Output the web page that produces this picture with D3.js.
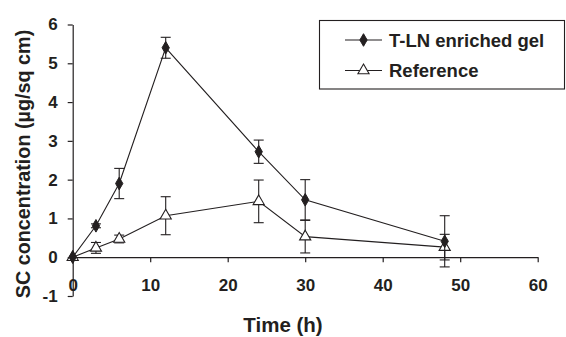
<!DOCTYPE html>
<html lang="en">
<head>
<meta charset="UTF-8">
<title>SC concentration</title>
<script src="https://cdnjs.cloudflare.com/ajax/libs/d3/7.8.5/d3.min.js"></script>
<style>
  body { margin: 0; background: #fff; }
  text { font-family: "Liberation Sans", Arial, sans-serif; font-weight: bold; fill: #231f20; }
</style>
</head>
<body>
<script>
  // data
  const times = [0, 3, 6, 12, 24, 30, 48]
  const gelValues = [0, 0.81, 1.9, 5.4, 2.72, 1.48, 0.41]
  const gelErrors = [0, 0.05, 0.39, 0.27, 0.3, 0.52, 0.66]
  const refValues = [0, 0.24, 0.47, 1.07, 1.44, 0.53, 0.26]
  const refErrors = [0, 0.14, 0.1, 0.49, 0.55, 0.42, 0.33]
  const xTicks = [0, 10, 20, 30, 40, 50, 60]
  const yTicks = [-1, 0, 1, 2, 3, 4, 5, 6]
  const seriesNames = ["T-LN enriched gel", "Reference"]

  const W = 566, H = 337
  const ink = "#231f20"

  const svg = d3.select("body").append("svg")
      .attr("width", W)
      .attr("height", H)

  const x = d3.scaleLinear().domain([0, 60]).range([72.7, 537.7])
  const y = d3.scaleLinear().domain([-1, 6]).range([296, 24.5])

  // y axis
  svg.append("g")
      .attr("transform", "translate(" + x(0) + ",0)")
      .call(d3.axisLeft(y).tickValues(yTicks).tickFormat(d => String(d))
        .tickSize(5).tickSizeOuter(0).tickPadding(10))
  // x axis sits on y = 0
  svg.append("g")
      .attr("transform", "translate(0," + y(0) + ")")
      .call(d3.axisBottom(x).tickValues(xTicks).tickFormat(d => String(d))
        .tickSize(5).tickSizeOuter(0).tickPadding(17))

  svg.selectAll(".domain, .tick line").attr("stroke", ink).attr("stroke-width", 1.2)
  svg.selectAll(".tick text")
      .style("font-size", "17px")
      .style("font-family", "'Liberation Sans', Arial, sans-serif")
      .style("font-weight", "bold")
      .attr("fill", ink)

  // titles
  svg.append("text")
      .attr("x", 283).attr("y", 332)
      .attr("text-anchor", "middle")
      .style("font-size", "20.5px")
      .text("Time (h)")
  svg.append("text")
      .attr("transform", "translate(30,164) rotate(-90)")
      .attr("text-anchor", "middle")
      .style("font-size", "19.8px")
      .text("SC concentration (µg/sq cm)")

  const series = [
    {name: seriesNames[0], values: gelValues, errors: gelErrors, marker: "diamond"},
    {name: seriesNames[1], values: refValues, errors: refErrors, marker: "triangle"}
  ]

  const line = d3.line().x(d => x(d.t)).y(d => y(d.v))
  const diamond = d3.symbol().type(d3.symbolDiamond).size(46)
  const triangle = d3.symbol().type(d3.symbolTriangle).size(54)

  function drawMarker(g, kind) {
    if (kind === "diamond") {
      g.append("path").attr("d", diamond).attr("fill", ink).attr("stroke", ink)
    } else {
      g.append("path").attr("d", triangle).attr("fill", "#fff").attr("stroke", ink).attr("stroke-width", 1.1)
    }
  }

  // reference first, gel on top
  series.slice().reverse().forEach(s => {
    const pts = times.map((t, i) => ({t: t, v: s.values[i], e: s.errors[i]}))
    const g = svg.append("g")
    pts.filter(d => d.e > 0).forEach(d => {
      const cx = x(d.t)
      const top = y(d.v + d.e), bot = y(d.v - d.e)
      g.append("line").attr("x1", cx).attr("x2", cx).attr("y1", top).attr("y2", bot)
        .attr("stroke", ink).attr("stroke-width", 1.1)
      ;[top, bot].forEach(yy => {
        g.append("line").attr("x1", cx - 5).attr("x2", cx + 5).attr("y1", yy).attr("y2", yy)
          .attr("stroke", ink).attr("stroke-width", 1.1)
      })
    })
    g.append("path").datum(pts)
        .attr("d", line)
        .attr("fill", "none")
        .attr("stroke", ink)
        .attr("stroke-width", 1.1)
    pts.forEach(d => {
      const m = g.append("g").attr("transform", "translate(" + x(d.t) + "," + y(d.v) + ")")
      drawMarker(m, s.marker)
    })
  })

  // legend
  const legend = svg.append("g")
  legend.append("rect")
      .attr("x", 319.5).attr("y", 20.5)
      .attr("width", 245).attr("height", 68.5)
      .attr("fill", "#fff").attr("stroke", ink).attr("stroke-width", 1.1)
  series.forEach((s, i) => {
    const ly = 40 + i * 30.5
    legend.append("line").attr("x1", 345).attr("x2", 382).attr("y1", ly).attr("y2", ly)
        .attr("stroke", ink).attr("stroke-width", 1.1)
    const m = legend.append("g").attr("transform", "translate(363.5," + ly + ")")
    drawMarker(m, s.marker)
    legend.append("text")
        .attr("x", 389).attr("y", ly + 6.5)
        .style("font-size", "18.5px")
        .text(s.name)
  })
</script>
</body>
</html>
